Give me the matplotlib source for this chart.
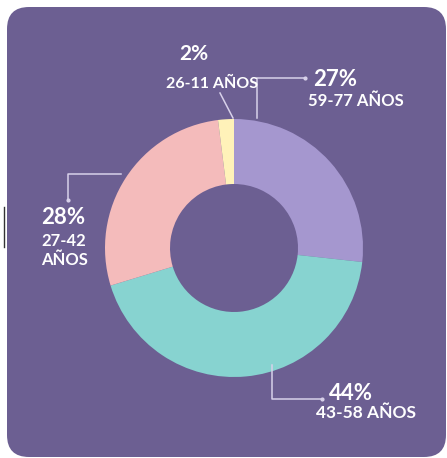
import matplotlib
matplotlib.use("Agg")
import matplotlib.pyplot as plt
from matplotlib.patches import FancyBboxPatch

# Data
categories = ["59-77 AÑOS", "43-58 AÑOS", "27-42 AÑOS", "26-11 AÑOS"]
values = [27, 44, 28, 2]
pct_labels = ["27%", "44%", "28%", "2%"]
colors = ["#A597CF", "#87D3D0", "#F4BBBB", "#FFF2B9"]

W, H = 447, 458
fig = plt.figure(figsize=(W / 100, H / 100), dpi=100)
fig.patch.set_facecolor("white")
ax = fig.add_axes([0, 0, 1, 1])

def Y(y):
    return H - y

# background rounded panel
bg = FancyBboxPatch((7, Y(457)), 439, 450,
                    boxstyle="round,pad=0,rounding_size=22",
                    facecolor="#6C5F92", edgecolor="none", zorder=0)
ax.add_patch(bg)

# small dark artifact line at left
ax.plot([4, 4], [Y(207), Y(247)], color="#333333", lw=1, zorder=1)

# donut
ax.pie(values, colors=colors, startangle=90, counterclock=False,
       center=(234, Y(248)), radius=129,
       wedgeprops=dict(width=65, edgecolor="none"), frame=True)

ax.set_xlim(0, W)
ax.set_ylim(0, H)
ax.set_aspect("auto")
ax.axis("off")

lc = "#D8D1EA"
lw = 1.1
# leader lines
ax.plot([220, 233], [Y(93), Y(118)], color=lc, lw=lw, zorder=3)
ax.plot([257, 257, 305], [Y(118), Y(78), Y(78)], color=lc, lw=lw, zorder=3)
ax.plot([305], [Y(78)], marker="o", ms=2, color=lc, zorder=3)
ax.plot([121, 68, 68], [Y(174), Y(174), Y(200)], color=lc, lw=lw, zorder=3)
ax.plot([68], [Y(200)], marker="o", ms=2, color=lc, zorder=3)
ax.plot([272, 272, 322], [Y(365), Y(399), Y(399)], color=lc, lw=lw, zorder=3)
ax.plot([322], [Y(399)], marker="o", ms=2, color=lc, zorder=3)

fam = ["Lato", "DejaVu Sans"]
tc = "white"
big = 16
small = 12

# 2%
ax.text(194, Y(54), pct_labels[3], fontsize=big - 1, fontweight="bold", color=tc,
        ha="center", va="center", family=fam)
ax.text(212, Y(84), categories[3], fontsize=small - 0.5, fontweight="bold", color=tc,
        ha="center", va="center", family=fam)
# 27%
ax.text(313, Y(80), pct_labels[0], fontsize=big, fontweight="bold", color=tc,
        ha="left", va="center", family=fam)
ax.text(356, Y(101), categories[0], fontsize=small, fontweight="bold", color=tc,
        ha="center", va="center", family=fam)
# 28%
ax.text(41, Y(218), pct_labels[2], fontsize=big, fontweight="bold", color=tc,
        ha="left", va="center", family=fam)
ax.text(41, Y(241), "27-42", fontsize=small, fontweight="bold", color=tc,
        ha="left", va="center", family=fam)
ax.text(41, Y(260), "AÑOS", fontsize=small, fontweight="bold", color=tc,
        ha="left", va="center", family=fam)
# 44%
ax.text(351, Y(394), pct_labels[1], fontsize=big, fontweight="bold", color=tc,
        ha="center", va="center", family=fam)
ax.text(366, Y(413), categories[1], fontsize=small + 0.5, fontweight="bold", color=tc,
        ha="center", va="center", family=fam)

fig.savefig("out.png", dpi=100, facecolor="white")
